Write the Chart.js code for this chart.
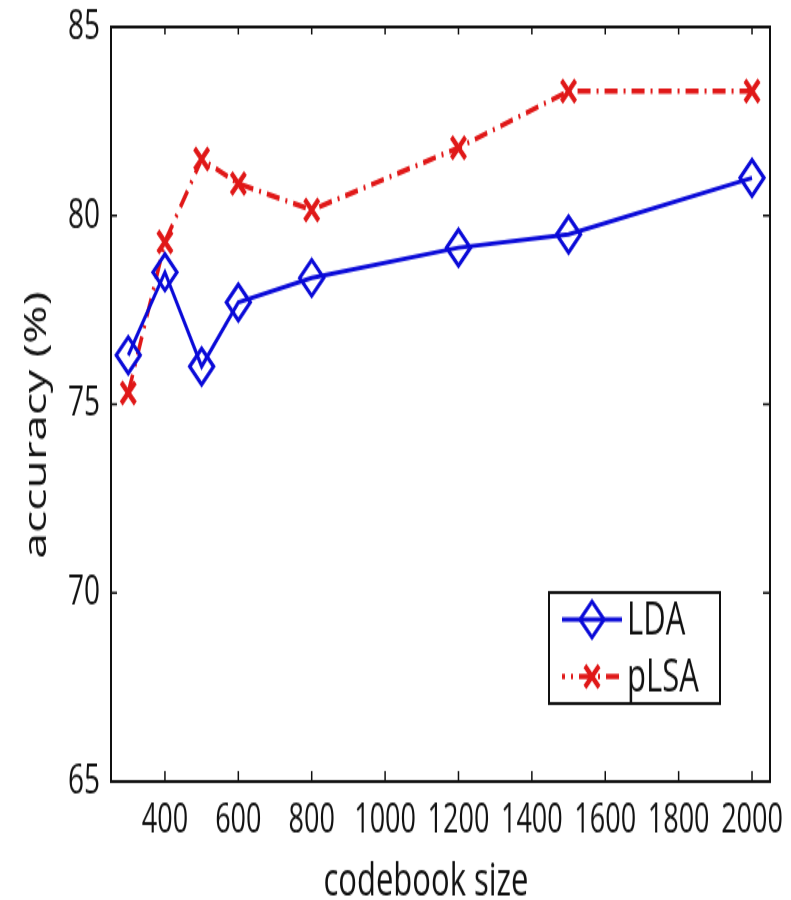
<!DOCTYPE html>
<html>
<head>
<meta charset="utf-8">
<script src="https://cdn.jsdelivr.net/npm/chart.js@4.4.0/dist/chart.umd.min.js"></script>
<style>
  html, body { margin: 0; padding: 0; background: #fff; }
  /* the original figure is stretched vertically: draw at 791x600 and show at 791x900 */
  #accChart { width: 791px; height: 900px; display: block; }
</style>
</head>
<body>
<canvas id="accChart" width="791" height="600" style="width:791px;height:900px"></canvas>
<script>
// data
const codebookSizes = [300, 400, 500, 600, 800, 1200, 1500, 2000];
const ldaAccuracy = [76.3, 78.5, 76.0, 77.7, 78.35, 79.15, 79.5, 81.0];
const plsaAccuracy = [75.3, 79.3, 81.5, 80.85, 80.15, 81.8, 83.3, 83.3];
const xTickValues = [400, 600, 800, 1000, 1200, 1400, 1600, 1800, 2000];
const yTickValues = [65, 70, 75, 80, 85];
const seriesNames = ["LDA", "pLSA"];
const xTitle = "codebook size";
const yTitle = "accuracy (%)";

const FONT = "'Open Sans', sans-serif";
Chart.defaults.font.family = FONT;
Chart.defaults.color = "#111";

function toPoints(xs, ys) {
    let pts = [];
    for (let i = 0; i < xs.length; i++) {
        pts.push({ x: xs[i], y: ys[i] });
    }
    return pts;
}

function drawMarker(ctx, style, x, y, r) {
    ctx.beginPath();
    if (style === 'rectRot') {
        ctx.moveTo(x - r, y);
        ctx.lineTo(x, y - r);
        ctx.lineTo(x + r, y);
        ctx.lineTo(x, y + r);
        ctx.closePath();
    } else {
        const d = r * Math.SQRT1_2;
        ctx.moveTo(x - d, y - d);
        ctx.lineTo(x + d, y + d);
        ctx.moveTo(x + d, y - d);
        ctx.lineTo(x - d, y + d);
    }
    ctx.stroke();
}

// box round the plot with matlab style inward ticks
const frameTicks = {
    id: 'frameTicks',
    afterDatasetsDraw(chart) {
        const ctx = chart.ctx;
        const a = chart.chartArea;
        const xs = chart.scales.x;
        const ys = chart.scales.y;
        ctx.save();
        ctx.strokeStyle = '#111';
        ctx.lineWidth = 1.5;
        ctx.beginPath();
        for (let t of xs.ticks) {
            const px = xs.getPixelForValue(t.value);
            ctx.moveTo(px, a.bottom);
            ctx.lineTo(px, a.bottom - 7);
            ctx.moveTo(px, a.top);
            ctx.lineTo(px, a.top + 5);
        }
        for (let t of ys.ticks) {
            const py = ys.getPixelForValue(t.value);
            ctx.moveTo(a.left, py);
            ctx.lineTo(a.left + 6, py);
            ctx.moveTo(a.right, py);
            ctx.lineTo(a.right - 7, py);
        }
        ctx.stroke();
        ctx.lineWidth = 2;
        ctx.strokeRect(a.left, a.top, a.right - a.left, a.bottom - a.top);
        ctx.restore();
    }
};

// axis titles, placed like the original (not centred on the plot box)
const axisTitles = {
    id: 'axisTitles',
    afterDraw(chart) {
        const ctx = chart.ctx;
        const a = chart.chartArea;
        ctx.save();
        ctx.fillStyle = '#111';
        ctx.font = "31px " + FONT;
        ctx.textAlign = 'center';
        ctx.textBaseline = 'alphabetic';
        ctx.fillText(xTitle, 426, chart.height - 3);
        ctx.translate(46, (a.top + a.bottom) / 2 + 14);
        ctx.rotate(-Math.PI / 2);
        ctx.fillText(yTitle, 0, 0);
        ctx.restore();
    }
};

// legend box inside the plot, lower right
const innerLegend = {
    id: 'innerLegend',
    afterDraw(chart) {
        const ctx = chart.ctx;
        const a = chart.chartArea;
        const bx = a.right - 221, by = a.bottom - 126, bw = 171, bh = 74;
        ctx.save();
        ctx.fillStyle = '#fff';
        ctx.fillRect(bx, by, bw, bh);
        ctx.strokeStyle = '#111';
        ctx.lineWidth = 2;
        ctx.strokeRect(bx, by, bw, bh);
        let items = chart.data.datasets.slice().reverse();
        items.forEach((ds, i) => {
            const y = by + 18 + i * 38;
            ctx.strokeStyle = ds.borderColor;
            ctx.lineWidth = ds.borderWidth;
            ctx.setLineDash(ds.borderDash || []);
            ctx.lineDashOffset = ds.borderDash ? 10 : 0;
            ctx.beginPath();
            ctx.moveTo(bx + 13, y);
            ctx.lineTo(bx + 73, y);
            ctx.stroke();
            ctx.setLineDash([]);
            ctx.lineWidth = ds.pointBorderWidth;
            drawMarker(ctx, ds.pointStyle, bx + 43, y, ds.pointRadius);
            ctx.fillStyle = '#111';
            ctx.font = "31px " + FONT;
            ctx.textBaseline = 'middle';
            ctx.fillText(ds.label, bx + 78, y + 1);
        });
        ctx.restore();
    }
};

const ctx = document.getElementById('accChart');

new Chart(ctx, {
    type: 'line',
    data: {
        datasets: [{
            label: seriesNames[1],
            data: toPoints(codebookSizes, plsaAccuracy),
            borderColor: '#e01818',
            borderWidth: 3.5,
            borderDash: [13, 6, 2, 6],
            tension: 0,
            fill: false,
            pointStyle: 'crossRot',
            pointRadius: 10,
            pointBorderWidth: 4,
            pointBorderColor: '#e01818',
            pointBackgroundColor: 'transparent',
            order: 2
        }, {
            label: seriesNames[0],
            data: toPoints(codebookSizes, ldaAccuracy),
            borderColor: '#0a0ad8',
            borderWidth: 3,
            tension: 0,
            fill: false,
            pointStyle: 'rectRot',
            pointRadius: 12,
            pointBorderWidth: 3,
            pointBorderColor: '#0a0ad8',
            pointBackgroundColor: 'transparent',
            order: 1
        }]
    },
    options: {
        responsive: false,
        maintainAspectRatio: false,
        devicePixelRatio: 1,
        animation: false,
        layout: { padding: { left: 0, right: 21, top: 18, bottom: 0 } },
        plugins: {
            legend: { display: false },
            tooltip: { enabled: false }
        },
        scales: {
            x: {
                type: 'linear',
                min: 253,
                max: 2049,
                grid: { display: false, drawTicks: false },
                border: { display: false },
                afterBuildTicks: (scale) => {
                    scale.ticks = xTickValues.map(v => ({ value: v }));
                },
                afterFit: (scale) => {
                    scale.height = 79;
                    scale.paddingLeft = 0;
                    scale.paddingRight = 0;
                },
                ticks: {
                    padding: 10,
                    maxRotation: 0,
                    font: { size: 27 },
                    callback: (v) => String(v)
                }
            },
            y: {
                min: 65,
                max: 85,
                grid: { display: false, drawTicks: false },
                border: { display: false },
                afterBuildTicks: (scale) => {
                    scale.ticks = yTickValues.map(v => ({ value: v }));
                },
                afterFit: (scale) => {
                    scale.width = 111;
                    scale.paddingTop = 0;
                    scale.paddingBottom = 0;
                },
                ticks: {
                    padding: 11,
                    font: { size: 28 },
                    callback: (v) => String(v)
                }
            }
        }
    },
    plugins: [frameTicks, axisTitles, innerLegend]
});
</script>
</body>
</html>
